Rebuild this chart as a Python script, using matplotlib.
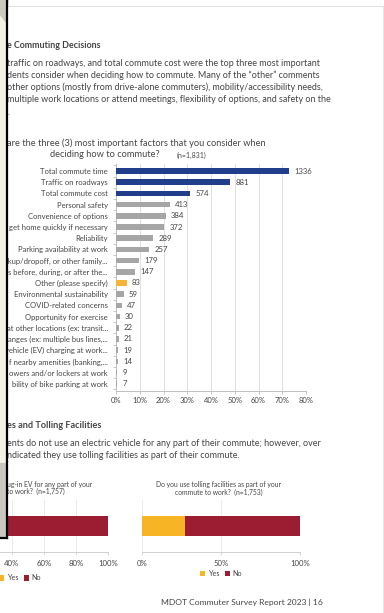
import matplotlib
matplotlib.use('Agg')
import matplotlib.pyplot as plt
from matplotlib.patches import Rectangle, Polygon

plt.rcParams['font.family'] = ['Lato', 'DejaVu Sans']

# survey answers (n=1,831), labels cut off by the photo's left edge
factors = ['Total commute time', 'Traffic on roadways', 'Total commute cost',
           'Personal safety', 'Convenience of options', 'get home quickly if necessary',
           'Reliability', 'Parking availability at work', 'ckup/dropoff, or other family...',
           's before, during, or after the...', 'Other (please specify)',
           'Environmental sustainability', 'COVID-related concerns', 'Opportunity for exercise',
           'at other locations (ex: transit...', 'anges (ex: multiple bus lines,...',
           'vehicle (EV) charging at work...', 'f nearby amenities (banking,...',
           'owers and/or lockers at work', 'bility of bike parking at work']
counts = [1336, 881, 574, 413, 384, 372, 289, 257, 179, 147, 83, 59, 47, 30, 22, 21, 19, 14, 9, 7]
n_total = 1831
pct_ticks = [0, 0.1, 0.2, 0.3, 0.4, 0.5, 0.6, 0.7, 0.8]

ev_yes, ev_no = 0.02, 0.98
toll_yes, toll_no = 0.27, 0.73

W, H = 384, 613
TXT = '#454545'
BLUE = '#203e8c'
GREY = '#a6a6a6'
ORANGE = '#f4b43a'
RED = '#9c1c32'
YELLOW = '#f7b526'


def box(x0, y0, x1, y1):
    # pixel box (top-left origin) -> figure fraction
    return [x0 / W, 1 - y1 / H, (x1 - x0) / W, (y1 - y0) / H]


fig = plt.figure(figsize=(W / 100, H / 100), dpi=100)
fig.patch.set_facecolor('white')

# page layer in pixel coords
bg = fig.add_axes([0, 0, 1, 1])
bg.set_xlim(0, W)
bg.set_ylim(H, 0)
bg.axis('off')
bg.plot([8, W], [6, 6], color='#e2e2e2', lw=0.8)
bg.plot([382.5, 382.5], [6, H], color='#e6e6e6', lw=0.8)

bg.text(7, 46, 'e Commuting Decisions', fontsize=6.4, fontweight='bold', color=TXT, va='center')
para = ['traffic on roadways, and total commute cost were the top three most important',
        'dents consider when deciding how to commute. Many of the \u201cother\u201d comments',
        'other options (mostly from drive-alone commuters), mobility/accessibility needs,',
        'multiple work locations or attend meetings, flexibility of options, and safety on the',
        '.']
for i, line in enumerate(para):
    bg.text(7, 63 + i * 12.3, line, fontsize=6.5, color=TXT, va='center')

bg.text(7, 143, 'are the three (3) most important factors that you consider when',
        fontsize=6.7, color=TXT, va='center')
bg.text(50, 154.5, 'deciding how to commute?', fontsize=6.7, color=TXT, va='center')
bg.text(177, 155, '(n=1,831)', fontsize=5.0, color=TXT, va='center')

bg.text(7, 425, 'es and Tolling Facilities', fontsize=6.6, fontweight='bold', color=TXT, va='center')
bg.text(7, 443, 'ents do not use an electric vehicle for any part of their commute; however, over',
        fontsize=6.5, color=TXT, va='center')
bg.text(7, 455, 'ndicated they use tolling facilities as part of their commute.',
        fontsize=6.5, color=TXT, va='center')

bg.text(7, 484, 'ug-in EV for any part of your', fontsize=4.9, color=TXT, va='center')
bg.text(7, 491.5, 'to work?  (n=1,757)', fontsize=4.9, color=TXT, va='center')
bg.text(219, 485, 'Do you use tolling facilities as part of your', fontsize=4.9, color=TXT,
        va='center', ha='center')
bg.text(219, 492.5, 'commute to work?  (n=1,753)', fontsize=4.9, color=TXT, va='center', ha='center')

bg.text(323, 602, 'MDOT Commuter Survey Report 2023 | 16', fontsize=6.1, color=TXT,
        va='center', ha='right')

# main bar chart
ax = fig.add_axes(box(116, 164.3, 306, 390.5))
ypos = list(range(len(factors)))
colors = [BLUE] * 3 + [GREY] * 7 + [ORANGE] + [GREY] * 9
ax.barh(ypos, [c / n_total for c in counts], height=0.5, color=colors, zorder=3)
for y, c in zip(ypos, counts):
    ax.text(c / n_total + 0.022, y, str(c), fontsize=5.6, color=TXT, va='center')
ax.set_xlim(0, 0.8)
ax.set_ylim(len(factors) - 0.4, -0.6)
ax.set_yticks(ypos)
ax.set_yticklabels(factors, fontsize=5.5, color=TXT)
ax.set_yticks([y + 0.5 for y in range(-1, len(factors))], minor=True)
ax.tick_params(axis='y', which='major', length=0, pad=6)
ax.tick_params(axis='y', which='minor', length=2, color='#bfbfbf', width=0.6)
ax.set_xticks(pct_ticks)
ax.set_xticklabels([f'{int(round(p * 100))}%' for p in pct_ticks], fontsize=5.5, color=TXT)
ax.tick_params(axis='x', length=2, color='#bfbfbf', width=0.6, pad=3)
ax.grid(axis='x', color='#dcdcdc', lw=0.6, zorder=0)
for s in ['top', 'right']:
    ax.spines[s].set_visible(False)
for s in ['left', 'bottom']:
    ax.spines[s].set_color('#bfbfbf')
    ax.spines[s].set_linewidth(0.7)


def stacked(rect, yes, no, ticks, leg_anchor):
    a = fig.add_axes(rect)
    a.barh([0], [yes], height=0.48, color=YELLOW, label='Yes', zorder=3)
    a.barh([0], [no], left=[yes], height=0.48, color=RED, label='No', zorder=3)
    a.set_xlim(0, 1)
    a.set_ylim(-0.6, 0.6)
    a.set_yticks([])
    a.set_xticks(ticks)
    a.set_xticklabels([f'{int(round(t * 100))}%' for t in ticks], fontsize=5.6, color=TXT)
    a.tick_params(axis='x', length=2, color='#d0d0d0', width=0.6, pad=4)
    a.grid(axis='x', color='#e6e6e6', lw=0.6, zorder=0)
    for s in ['top', 'right', 'left']:
        a.spines[s].set_visible(False)
    a.spines['bottom'].set_color('#d0d0d0')
    a.spines['bottom'].set_linewidth(0.7)
    a.legend(loc='center', bbox_to_anchor=leg_anchor, ncol=2, frameon=False, fontsize=5.2,
             handlelength=0.7, handleheight=0.7, handletextpad=0.3, columnspacing=0.8,
             labelcolor=TXT)
    return a


# left chart: 0% and 20% fall off the photo, only the visible ticks are labelled
stacked(box(-52, 500, 108, 552), ev_yes, ev_no, [0.4, 0.6, 0.8, 1.0], (0.45, -0.5))
stacked(box(142, 500, 300, 552), toll_yes, toll_no, [0, 0.5, 1.0], (0.5, -0.42))

# photo frame on the left edge
fr = fig.add_axes([0, 0, 1, 1])
fr.set_xlim(0, W)
fr.set_ylim(H, 0)
fr.axis('off')
fr.patch.set_alpha(0)
fr.add_patch(Rectangle((0, 0), 6, 463, color='#f4f2e4', zorder=1))
fr.add_patch(Rectangle((0, 463), 6, 74, color='#c8c8c0', zorder=1))
fr.add_patch(Polygon([(0, 0), (8, 0), (6, 22), (0, 14)], closed=True, color='#c9c9bd', zorder=2))
fr.plot([6.5, 6.5], [0, 537.5], color='black', lw=1.6, zorder=3)
fr.plot([0, 7.2], [537.5, 537.5], color='black', lw=1.6, zorder=3)

fig.savefig('out.png', dpi=100)
